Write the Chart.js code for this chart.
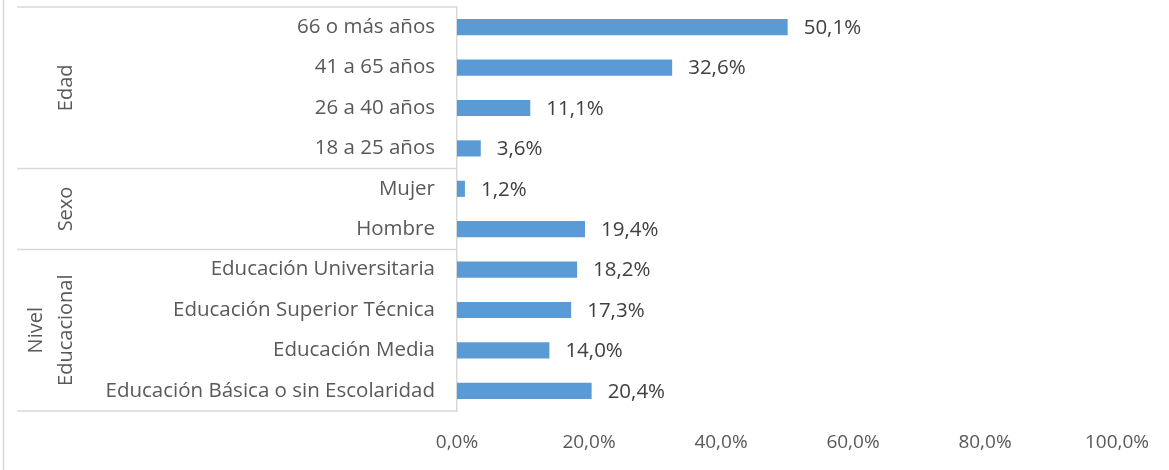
<!DOCTYPE html>
<html>
<head>
<meta charset="utf-8">
<script src="https://cdn.jsdelivr.net/npm/chart.js@4"></script>
<style>
  html, body { margin: 0; padding: 0; background: #fff; }
  #wrap { width: 1169px; height: 470px; }
</style>
</head>
<body>
<div id="wrap"><canvas id="grafico"></canvas></div>
<script>
var categorias = [
  '66 o más años', '41 a 65 años', '26 a 40 años', '18 a 25 años',
  'Mujer', 'Hombre',
  'Educación Universitaria', 'Educación Superior Técnica', 'Educación Media',
  'Educación Básica o sin Escolaridad'
];
var porcentajes = [50.1, 32.6, 11.1, 3.6, 1.2, 19.4, 18.2, 17.3, 14.0, 20.4];
var grupos = [
  { nombre: ['Edad'], desde: 0, hasta: 3 },
  { nombre: ['Sexo'], desde: 4, hasta: 5 },
  { nombre: ['Nivel', 'Educacional'], desde: 6, hasta: 9 }
];
var ticksX = [0, 20, 40, 60, 80, 100];

var fuente = '"Open Sans", "Noto Sans", sans-serif';
var gris = '#D9D9D9';

function fmt(v) {
  return v.toFixed(1).replace('.', ',') + '%';
}

// etiquetas de datos y caja de grupos del eje
var extras = {
  id: 'extras',
  afterDraw: function(chart) {
    var ctx = chart.ctx;
    var area = chart.chartArea;
    var y = chart.scales.y;
    var meta = chart.getDatasetMeta(0);

    ctx.save();
    // borde izquierdo
    ctx.strokeStyle = gris;
    ctx.lineWidth = 1.5;
    ctx.beginPath();
    ctx.moveTo(3.5, 0);
    ctx.lineTo(3.5, 470);
    ctx.stroke();

    // lineas de grupos
    var paso = y.getPixelForValue(1) - y.getPixelForValue(0);
    ctx.beginPath();
    ctx.moveTo(17, area.top);
    ctx.lineTo(area.left, area.top);
    ctx.moveTo(17, area.bottom);
    ctx.lineTo(area.left, area.bottom);
    grupos.forEach(function(g, i) {
      if (i > 0) {
        var yy = y.getPixelForValue(g.desde) - paso / 2;
        ctx.moveTo(17, yy);
        ctx.lineTo(area.left, yy);
      }
    });
    ctx.stroke();

    // nombres de grupos
    ctx.fillStyle = '#595959';
    ctx.font = '20px ' + fuente;
    ctx.textAlign = 'center';
    ctx.textBaseline = 'middle';
    grupos.forEach(function(g) {
      var cy = (y.getPixelForValue(g.desde) + y.getPixelForValue(g.hasta)) / 2;
      var n = g.nombre.length;
      g.nombre.forEach(function(linea, k) {
        var cx = 66 - (n - 1 - k) * 30;
        ctx.save();
        ctx.translate(cx, cy);
        ctx.rotate(-Math.PI / 2);
        ctx.fillText(linea, 0, 0);
        ctx.restore();
      });
    });

    // etiquetas de valores
    ctx.fillStyle = '#404040';
    ctx.font = '20.5px ' + fuente;
    ctx.textAlign = 'left';
    meta.data.forEach(function(bar, i) {
      ctx.fillText(fmt(porcentajes[i]), bar.x + 16, bar.y + 1);
    });
    ctx.restore();
  }
};

new Chart(document.getElementById('grafico'), {
  type: 'bar',
  data: {
    labels: categorias,
    datasets: [{
      data: porcentajes,
      backgroundColor: '#5B9BD5',
      barPercentage: 0.4,
      categoryPercentage: 1
    }]
  },
  options: {
    indexAxis: 'y',
    responsive: true,
    maintainAspectRatio: false,
    animation: false,
    layout: { padding: { top: 7, right: 52, bottom: 0, left: 0 } },
    plugins: {
      legend: { display: false },
      tooltip: { enabled: false }
    },
    scales: {
      x: {
        min: 0,
        max: 100,
        afterBuildTicks: function(scale) {
          scale.ticks = ticksX.map(function(v) { return { value: v }; });
        },
        afterFit: function(scale) {
          scale.height = 59;
          scale.paddingLeft = 0;
          scale.paddingRight = 0;
        },
        grid: { display: false },
        border: { display: false },
        ticks: {
          color: '#595959',
          font: { family: fuente, size: 19 },
          padding: 12,
          maxRotation: 0,
          callback: function(v) { return fmt(v); }
        }
      },
      y: {
        afterFit: function(scale) {
          scale.width = 457;
          scale.paddingTop = 0;
          scale.paddingBottom = 0;
        },
        grid: { display: false },
        border: { display: true, color: gris, width: 1.5 },
        ticks: {
          color: '#595959',
          font: { family: fuente, size: 20.5 },
          padding: 14
        }
      }
    }
  },
  plugins: [extras]
});
</script>
</body>
</html>
